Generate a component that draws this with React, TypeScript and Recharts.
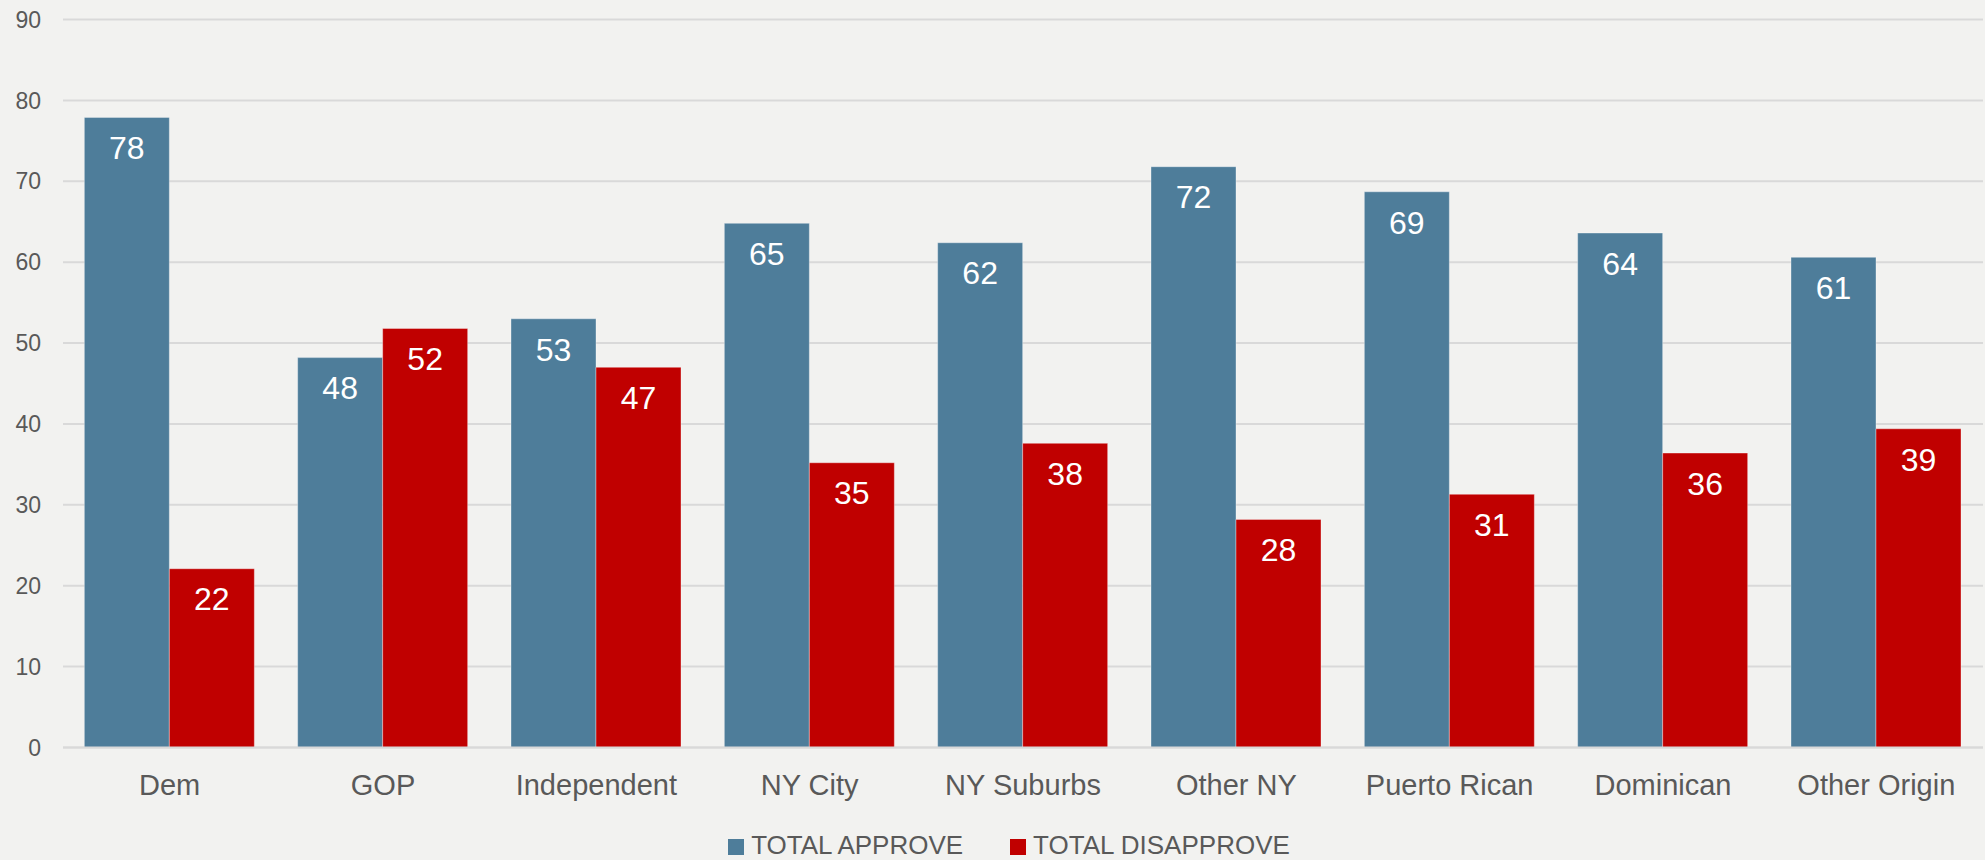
import { BarChart, Bar, XAxis, YAxis, CartesianGrid, Legend, LabelList } from 'recharts';

const categories = ['Dem', 'GOP', 'Independent', 'NY City', 'NY Suburbs', 'Other NY', 'Puerto Rican', 'Dominican', 'Other Origin'];
const approve = [77.9, 48.2, 53.0, 64.8, 62.4, 71.8, 68.7, 63.6, 60.6];
const disapprove = [22.1, 51.8, 47.0, 35.2, 37.6, 28.2, 31.3, 36.4, 39.4];
const yTicks = [0, 10, 20, 30, 40, 50, 60, 70, 80, 90];

const BLUE = '#4E7D9A';
const RED = '#C00000';
const TEXT = '#595959';
const FONT = "'Liberation Sans', Arial, sans-serif";

const data = categories.map((name, i) => ({
  name,
  approve: approve[i],
  disapprove: disapprove[i],
}));

const series = [
  { key: 'approve', label: 'TOTAL APPROVE', color: BLUE },
  { key: 'disapprove', label: 'TOTAL DISAPPROVE', color: RED },
];

function LegendContent() {
  return (
    <div
      style={{
        height: 52,
        display: 'flex',
        alignItems: 'flex-end',
        justifyContent: 'center',
        paddingLeft: 33,
        fontFamily: FONT,
        fontSize: 26,
        color: TEXT,
      }}
    >
      {series.map((s, i) => (
        <div key={s.key} style={{ display: 'flex', alignItems: 'center', height: 30, marginLeft: i ? 47 : 0 }}>
          <span style={{ width: 16, height: 16, background: s.color, display: 'inline-block', marginRight: 7, marginTop: 5 }} />
          <span style={{ lineHeight: '30px', whiteSpace: 'nowrap' }}>{s.label}</span>
        </div>
      ))}
    </div>
  );
}

export default function App() {
  return (
    <div style={{ position: 'fixed', top: 0, left: 0, width: 1985, height: 860, background: '#F2F2F0' }}>
      <BarChart
        width={1985}
        height={860}
        data={data}
        margin={{ top: 19.5, right: 2, bottom: 0, left: 0 }}
        barCategoryGap="10%"
        barGap={0}
      >
        <CartesianGrid vertical={false} stroke="#D9D9D9" strokeWidth={2} />
        <XAxis
          dataKey="name"
          height={60}
          tickLine={false}
          axisLine={{ stroke: '#D9D9D9', strokeWidth: 2 }}
          tickSize={0}
          tickMargin={27}
          interval={0}
          tick={{ fill: TEXT, fontSize: 29, fontFamily: FONT }}
        />
        <YAxis
          width={63}
          domain={[0, 90]}
          ticks={yTicks}
          axisLine={false}
          tickLine={false}
          tickSize={0}
          tickMargin={22}
          tick={{ fill: TEXT, fontSize: 23, fontFamily: FONT }}
        />
        <Legend verticalAlign="bottom" height={52.5} wrapperStyle={{ left: 0, bottom: 0, width: 1985 }} content={<LegendContent />} />
        {series.map((s) => (
          <Bar
            key={s.key}
            dataKey={s.key}
            name={s.label}
            fill={s.color}
            stroke="#ffffff"
            strokeOpacity={0.35}
            strokeWidth={1}
            isAnimationActive={false}
          >
            <LabelList
              dataKey={s.key}
              position="insideTop"
              offset={19}
              formatter={(v: any) => Math.round(Number(v))}
              style={{ fill: '#ffffff', fontSize: 32, fontFamily: FONT }}
            />
          </Bar>
        ))}
      </BarChart>
    </div>
  );
}
